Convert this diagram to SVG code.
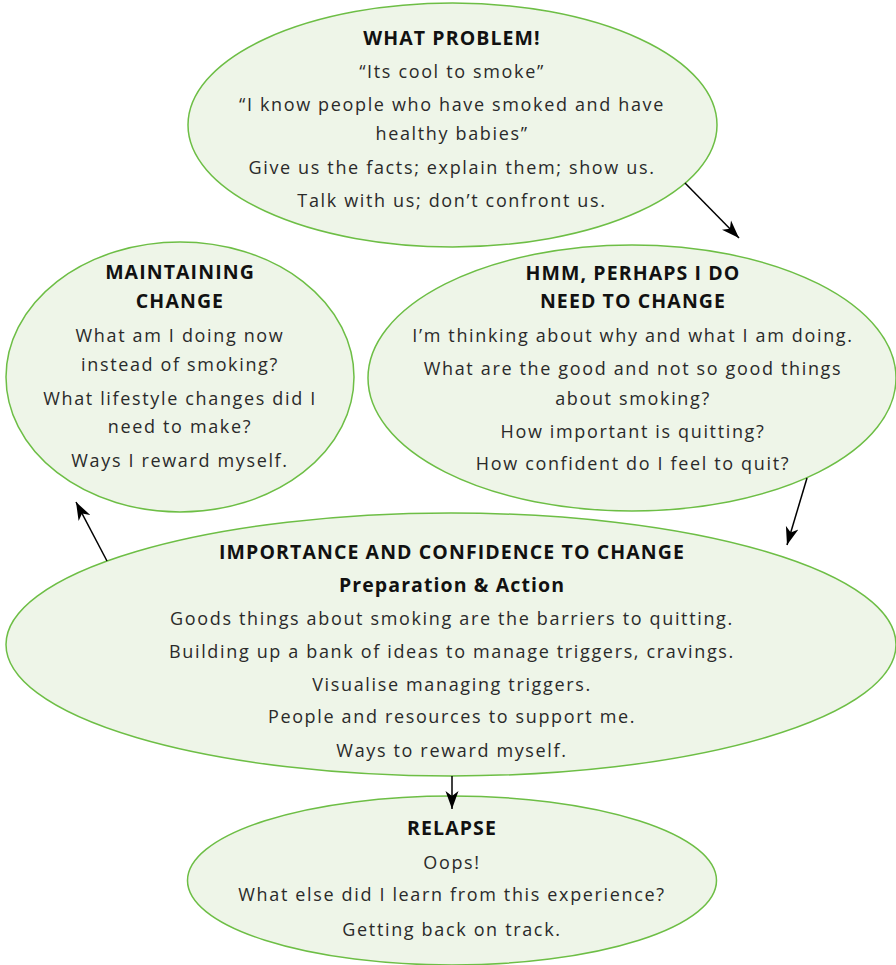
<svg xmlns="http://www.w3.org/2000/svg" width="896" height="965" viewBox="0 0 896 965">
<style>
.n{fill:#EEF5E8;stroke:#6DBE45;stroke-width:1.5}
text{font-family:"Open Sans","Liberation Sans",sans-serif;font-size:18px;fill:#2a2a2a;text-anchor:middle;letter-spacing:1.65px}
.h{font-weight:bold;font-size:19.5px;letter-spacing:1.1px;fill:#111}
.c{stroke:#000;stroke-width:1.5;fill:none;marker-end:url(#ah)}
</style>
<defs>
<marker id="ah" markerUnits="userSpaceOnUse" markerWidth="20" markerHeight="14" refX="18" refY="6.5" orient="auto" viewBox="0 0 20 13">
<path d="M0,0 L18,6.5 L0,13 L5,6.5 Z" fill="#000"/>
</marker>
</defs>
<g id="what-problem">
<ellipse class="n" cx="452.5" cy="125" rx="264.5" ry="122"/>
<text class="h" x="452" y="45">WHAT PROBLEM!</text>
<text x="452" y="78">“Its cool to smoke”</text>
<text x="452" y="111">“I know people who have smoked and have</text>
<text x="452" y="140">healthy babies”</text>
<text x="452" y="174">Give us the facts; explain them; show us.</text>
<text x="452" y="207">Talk with us; don’t confront us.</text>
</g>
<g id="hmm">
<ellipse class="n" cx="632" cy="378" rx="264" ry="133"/>
<text class="h" x="633" y="280">HMM, PERHAPS I DO</text>
<text class="h" x="633" y="308">NEED TO CHANGE</text>
<text x="633" y="342">I’m thinking about why and what I am doing.</text>
<text x="633" y="375">What are the good and not so good things</text>
<text x="633" y="405">about smoking?</text>
<text x="633" y="438">How important is quitting?</text>
<text x="633" y="470">How confident do I feel to quit?</text>
</g>
<g id="maintaining">
<ellipse class="n" cx="180" cy="377" rx="174" ry="135"/>
<text class="h" x="180" y="279">MAINTAINING</text>
<text class="h" x="180" y="308">CHANGE</text>
<text x="180" y="342">What am I doing now</text>
<text x="180" y="371">instead of smoking?</text>
<text x="180" y="405">What lifestyle changes did I</text>
<text x="180" y="433">need to make?</text>
<text x="180" y="467">Ways I reward myself.</text>
</g>
<g id="importance">
<ellipse class="n" cx="451" cy="644.5" rx="445" ry="131.5"/>
<text class="h" x="452" y="559">IMPORTANCE AND CONFIDENCE TO CHANGE</text>
<text class="h" x="452" y="592">Preparation &amp; Action</text>
<text x="452" y="625">Goods things about smoking are the barriers to quitting.</text>
<text x="452" y="658">Building up a bank of ideas to manage triggers, cravings.</text>
<text x="452" y="691">Visualise managing triggers.</text>
<text x="452" y="723">People and resources to support me.</text>
<text x="452" y="757">Ways to reward myself.</text>
</g>
<g id="relapse">
<ellipse class="n" cx="452" cy="880.5" rx="264.5" ry="84.5"/>
<text class="h" x="452" y="835">RELAPSE</text>
<text x="452" y="869">Oops!</text>
<text x="452" y="901">What else did I learn from this experience?</text>
<text x="452" y="936">Getting back on track.</text>
</g>
<g id="connectors">
<line class="c" x1="685" y1="183" x2="739" y2="238"/>
<line class="c" x1="807" y1="478" x2="787" y2="545"/>
<line class="c" x1="107" y1="561" x2="76" y2="502"/>
<line class="c" x1="452" y1="776" x2="452" y2="809"/>
</g>
</svg>
